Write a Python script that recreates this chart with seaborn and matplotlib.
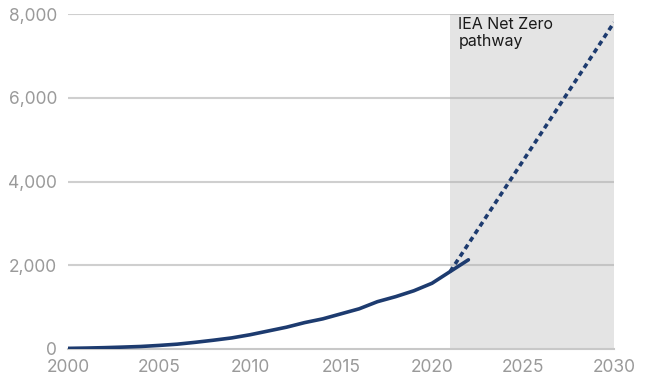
import pandas as pd
import matplotlib.pyplot as plt
import seaborn as sns

# 历史数据 (2000-2022)
years = list(range(2000, 2023))
capacity = [15, 22, 32, 45, 60, 85, 115, 160, 210, 265, 340, 430, 520, 630, 720,
            840, 960, 1130, 1250, 1390, 1570, 1850, 2130]

# IEA Net Zero 路径
nz_years = [2021, 2030]
nz_capacity = [1850, 7800]

x_ticks = [2000, 2005, 2010, 2015, 2020, 2025, 2030]
y_ticks = [0, 2000, 4000, 6000, 8000]
y_labels = ['0', '2,000', '4,000', '6,000', '8,000']
label = 'IEA Net Zero\npathway'

sns.set_style('white')
plt.rcParams['font.family'] = ['Inter', 'DejaVu Sans']

navy = '#1d3b6f'
grey_txt = '#9a9a9a'

hist = pd.DataFrame({'year': years, 'value': capacity})
nz = pd.DataFrame({'year': nz_years, 'value': nz_capacity})

fig = plt.figure(figsize=(6.5, 3.8), dpi=100)
ax = fig.add_axes([0.1046, 0.0816, 0.84, 0.8814])

# 阴影区域
ax.axvspan(2021, 2030, color='#e4e4e4', lw=0, zorder=0)

# 网格线
for y in y_ticks[1:]:
    ax.axhline(y, color='#b0b0b0', alpha=0.6, lw=1.5, zorder=1)

sns.lineplot(data=nz, x='year', y='value', ax=ax, color=navy, lw=2.6, zorder=3)
ax.lines[-1].set_linestyle((0, (1.4, 1.1)))
sns.lineplot(data=hist, x='year', y='value', ax=ax, color=navy, lw=2.6, zorder=4)

ax.text(2021.45, 7920, label, fontsize=11.5, color='#1a1a1a', va='top', ha='left',
        linespacing=1.15)

ax.set_xlim(2000, 2030)
ax.set_ylim(0, 8000)
ax.set_xticks(x_ticks)
ax.set_yticks(y_ticks)
ax.set_yticklabels(y_labels)
ax.set_xlabel('')
ax.set_ylabel('')

sns.despine(ax=ax, left=True, top=True, right=True)
ax.spines['bottom'].set_color('#c8c8c8')
ax.spines['bottom'].set_linewidth(1.5)
ax.tick_params(axis='x', colors='#b0b0b0', length=4, width=1.2, direction='out',
               labelcolor=grey_txt, labelsize=12.5, pad=3)
ax.tick_params(axis='y', length=0, labelcolor=grey_txt, labelsize=12.5, pad=8)

fig.savefig('out.png', dpi=100)
